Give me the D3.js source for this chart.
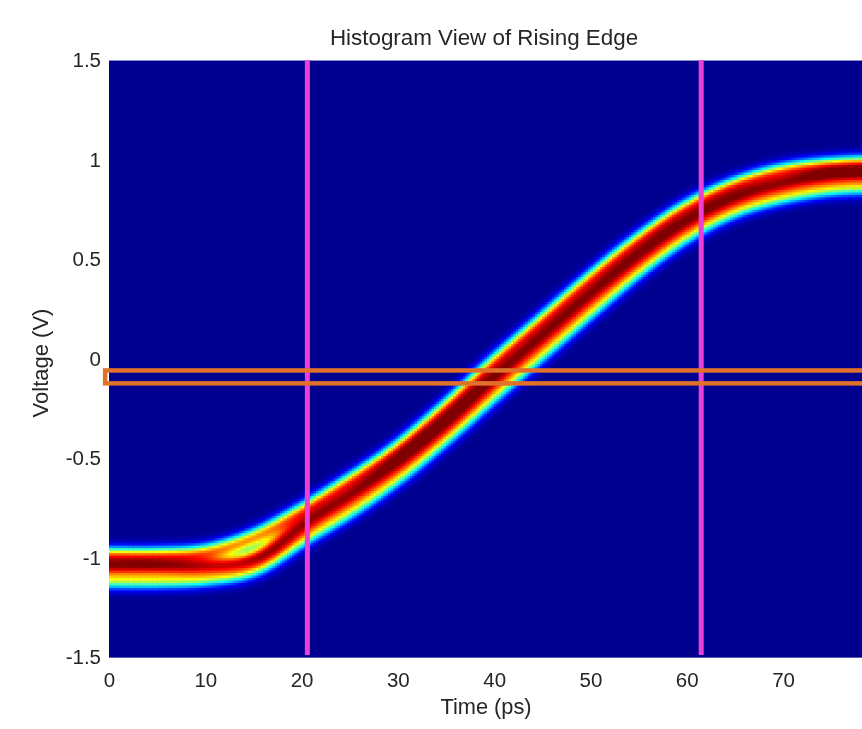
<!DOCTYPE html>
<html>
<head>
<meta charset="utf-8">
<script src="https://cdn.jsdelivr.net/npm/d3@7"></script>
<style>
  html, body { margin: 0; padding: 0; background: #ffffff; }
  #chart { position: relative; width: 862px; height: 729px; overflow: hidden; }
  #chart canvas, #chart svg { position: absolute; left: 0; top: 0; }
  text { font-family: "Liberation Sans", Arial, Helvetica, sans-serif; fill: #262626; }
</style>
</head>
<body>
<div id="chart">
  <canvas id="heat" width="862" height="729"></canvas>
  <svg id="overlay" width="862" height="729"></svg>
</div>
<script>
// Sampled waveforms (V) captured on the rising edge, one value per time sample (ps)
const timeSamples  = [-5, 0, 5, 10, 15, 20, 25, 30, 35, 40, 45, 50, 55, 60, 65, 70, 75, 80, 85];
const traceUpper   = [-0.99, -0.99, -0.99, -0.975, -0.90, -0.77, -0.62, -0.455, -0.25, -0.025, 0.185, 0.395, 0.59, 0.755, 0.87, 0.94, 0.97, 0.98, 0.98];
const traceCenter  = [-1.045, -1.045, -1.045, -1.04, -1.00, -0.84, -0.69, -0.52, -0.32, -0.10, 0.11, 0.32, 0.52, 0.69, 0.81, 0.88, 0.92, 0.93, 0.93];
const traceLower   = [-1.11, -1.11, -1.11, -1.10, -1.055, -0.905, -0.76, -0.59, -0.39, -0.175, 0.035, 0.245, 0.45, 0.625, 0.75, 0.82, 0.86, 0.87, 0.87];
const traceWeights = [0.85, 1.0, 0.6];

// Axis ticks
const xTicks = [0, 10, 20, 30, 40, 50, 60, 70];
const yTicks = [-1.5, -1, -0.5, 0, 0.5, 1, 1.5];

// Measurement cursors (ps) and threshold window (V)
const cursorTimes = [20.6, 61.5];
const thresholdWindow = [-0.125, -0.06];

const W = 862, H = 729;
const plot = { left: 109, right: 862, top: 60, bottom: 657 };
const timeMax = 78.2;

const x = d3.scaleLinear().domain([0, timeMax]).range([plot.left, plot.right]);
const y = d3.scaleLinear().domain([-1.5, 1.5]).range([plot.bottom, plot.top]);

// Jet colour map
const jet = d3.scaleLinear()
  .domain([0, 0.125, 0.375, 0.625, 0.875, 1])
  .range(["#00008f", "#0000ff", "#00ffff", "#ffff00", "#ff0000", "#800000"])
  .interpolate(d3.interpolateRgb)
  .clamp(true);

const svg = d3.select("#overlay");
const defs = svg.append("defs");

// Smooth each trace with a d3 curve, then walk it by arc length
const line = d3.line()
  .x((d, i) => x(timeSamples[i]))
  .y(d => y(d))
  .curve(d3.curveCatmullRom.alpha(0.5));

const traces = [traceUpper, traceCenter, traceLower];

// Histogram grid in data space (extends a little past the visible window)
const tStep = 0.25, vStep = 0.0125;
const t0 = -3;
const nT = Math.ceil((timeMax + 3 - t0) / tStep);
const nV = Math.round(3 / vStep);
const grid = new Float32Array(nT * nV);
const sigma = 6;         // spread of each hit, px
const reach = 3.5 * sigma;

const cellCx = d3.range(nT).map(i => x(t0 + (i + 0.5) * tStep));
const cellCy = d3.range(nV).map(j => y(-1.5 + (j + 0.5) * vStep));
const pxPerT = x(tStep) - x(0);
const pxPerV = y(-1.5) - y(-1.5 + vStep);

traces.forEach((tr, k) => {
  const path = defs.append("path").attr("d", line(tr)).node();
  const len = path.getTotalLength();
  const w = traceWeights[k];
  for (let s = 0; s <= len; s += 1) {
    const p = path.getPointAtLength(s);
    const ti = Math.floor((x.invert(p.x) - t0) / tStep);
    const vj = Math.floor((y.invert(p.y) + 1.5) / vStep);
    const di = Math.ceil(reach / pxPerT), dj = Math.ceil(reach / pxPerV);
    for (let i = Math.max(0, ti - di); i <= Math.min(nT - 1, ti + di); i++) {
      const dx = cellCx[i] - p.x;
      for (let j = Math.max(0, vj - dj); j <= Math.min(nV - 1, vj + dj); j++) {
        const dy = cellCy[j] - p.y;
        const d2 = dx * dx + dy * dy;
        if (d2 < reach * reach) grid[i * nV + j] += w * Math.exp(-d2 / (2 * sigma * sigma));
      }
    }
  }
});

const maxD = d3.max(grid);

// Paint the histogram
const canvas = document.getElementById("heat");
const ctx = canvas.getContext("2d");
ctx.save();
ctx.beginPath();
ctx.rect(plot.left, plot.top, plot.right - plot.left, plot.bottom - plot.top);
ctx.clip();
ctx.fillStyle = jet(0);
ctx.fillRect(plot.left, plot.top, plot.right - plot.left, plot.bottom - plot.top);
for (let i = 0; i < nT; i++) {
  const x0 = x(t0 + i * tStep);
  for (let j = 0; j < nV; j++) {
    const d = grid[i * nV + j];
    if (d <= 0) continue;
    const c = Math.pow(Math.min(1, d / (0.92 * maxD)), 0.85);
    if (c < 0.004) continue;
    const yTop = y(-1.5 + (j + 1) * vStep);
    ctx.fillStyle = jet(c);
    ctx.fillRect(x0, yTop, pxPerT + 0.6, pxPerV + 0.6);
  }
}
ctx.restore();

// Plot frame edges
svg.append("line")
  .attr("x1", plot.left).attr("x2", plot.right)
  .attr("y1", plot.top + 0.5).attr("y2", plot.top + 0.5)
  .attr("stroke", "#8a8ad0").attr("stroke-width", 1);
svg.append("line")
  .attr("x1", plot.left).attr("x2", plot.right)
  .attr("y1", plot.bottom + 0.5).attr("y2", plot.bottom + 0.5)
  .attr("stroke", "#5a5ab8").attr("stroke-width", 1);

// Cursor lines
svg.selectAll("line.cursor")
  .data(cursorTimes)
  .enter().append("line")
  .attr("class", "cursor")
  .attr("x1", d => x(d)).attr("x2", d => x(d))
  .attr("y1", y(1.5)).attr("y2", y(-1.49))
  .attr("stroke", "#ec3fd8").attr("stroke-width", 5);

// Threshold window
svg.append("rect")
  .attr("x", x(-0.4))
  .attr("y", y(thresholdWindow[1]))
  .attr("width", x(timeMax + 2) - x(-0.4))
  .attr("height", y(thresholdWindow[0]) - y(thresholdWindow[1]))
  .attr("fill", "none")
  .attr("stroke", "#e0702a")
  .attr("stroke-width", 4.5);

// Axes
const xAxis = d3.axisBottom(x).tickValues(xTicks).tickFormat(d3.format("d")).tickSize(0).tickPadding(15);
const yAxis = d3.axisLeft(y).tickValues(yTicks).tickFormat(d => String(d)).tickSize(0).tickPadding(8);

const gx = svg.append("g").attr("transform", `translate(0,${plot.bottom})`).call(xAxis);
const gy = svg.append("g").attr("transform", `translate(${plot.left},0)`).call(yAxis);
[gx, gy].forEach(g => {
  g.select(".domain").remove();
  g.selectAll("text").style("font-size", "20.5px").attr("fill", "#262626")
    .style("font-family", "'Liberation Sans', Arial, sans-serif");
});

// Titles
svg.append("text")
  .attr("x", 484).attr("y", 45)
  .attr("text-anchor", "middle")
  .style("font-size", "22.4px")
  .text("Histogram View of Rising Edge");

svg.append("text")
  .attr("x", 486).attr("y", 714)
  .attr("text-anchor", "middle")
  .style("font-size", "21.8px")
  .text("Time (ps)");

svg.append("text")
  .attr("transform", "translate(48,363) rotate(-90)")
  .attr("text-anchor", "middle")
  .style("font-size", "22px")
  .text("Voltage (V)");
</script>
</body>
</html>
